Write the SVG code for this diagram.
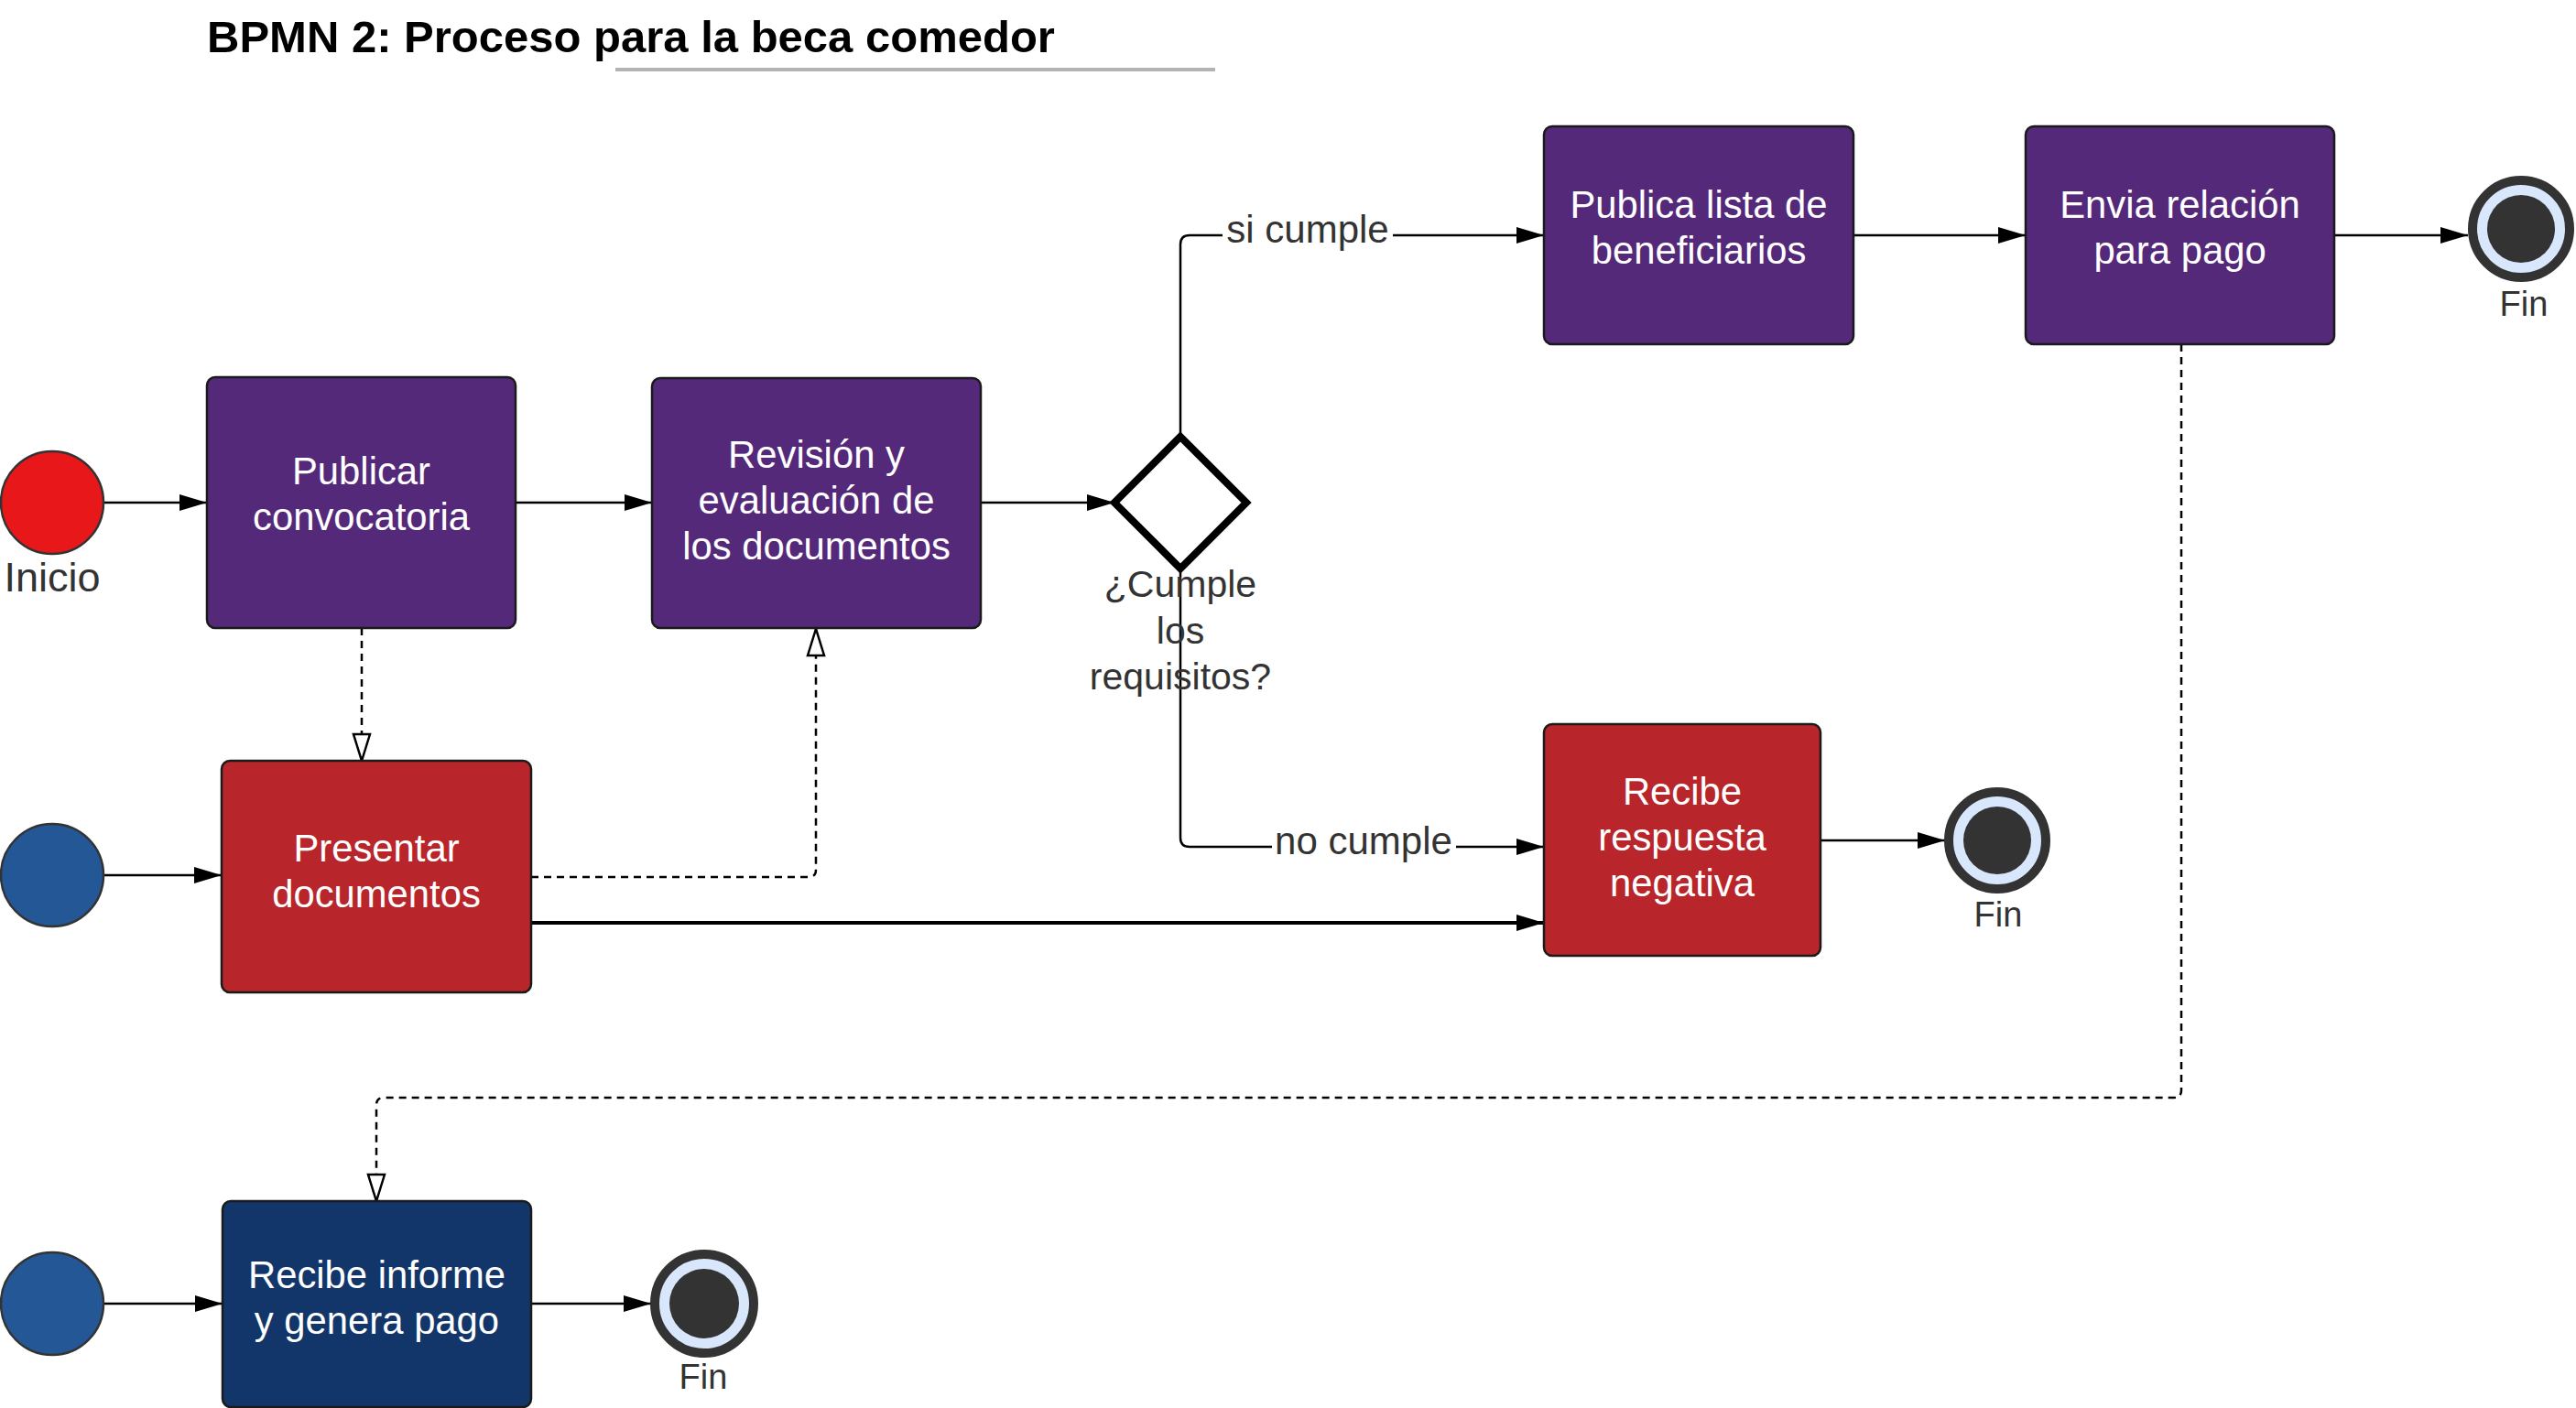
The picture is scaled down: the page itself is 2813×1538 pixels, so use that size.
<svg xmlns="http://www.w3.org/2000/svg" width="2813" height="1538" viewBox="0 0 2813 1538">
<style>
.task{stroke:#1a1a1a;stroke-width:2.5}
.purple{fill:#55297a}
.red{fill:#b8252a}
.navy{fill:#13366a}
.tt{font-family:"Liberation Sans",Arial,sans-serif;font-size:41.8px;fill:#ffffff;text-anchor:middle}
.lbl{font-family:"Liberation Sans",Arial,sans-serif;fill:#333333;text-anchor:middle}
.start{stroke:#333333;stroke-width:2.5}
.endo{fill:#d8e7fb;stroke:#333333;stroke-width:10}
.endi{fill:#333333}
.flow{fill:none;stroke:#000000;stroke-width:2.5;marker-end:url(#arr)}
.msg{fill:none;stroke:#000000;stroke-width:2.5;stroke-dasharray:8 6;marker-end:url(#open)}
</style>
<defs>
<marker id="arr" markerUnits="userSpaceOnUse" markerWidth="32" markerHeight="22" viewBox="0 -2 32 22" refX="30" refY="9" orient="auto">
<path d="M0,0 L30,9 L0,18 Z" fill="#000000"/>
</marker>
<marker id="open" markerUnits="userSpaceOnUse" markerWidth="34" markerHeight="24" viewBox="-2 -3 34 24" refX="29" refY="9" orient="auto">
<path d="M0,0 L29,9 L0,18 Z" fill="#ffffff" stroke="#000000" stroke-width="2.5" stroke-dasharray="none"/>
</marker>
</defs>
<rect x="0" y="0" width="2813" height="1538" fill="#ffffff"/>

<g id="title">
<text x="226" y="57" font-family="Liberation Sans, Arial, sans-serif" font-size="49" font-weight="bold" fill="#000000">BPMN 2: Proceso para la beca comedor</text>
<line x1="672" y1="76" x2="1327" y2="76" stroke="#b3b3b3" stroke-width="4"/>
</g>

<g id="connectors">
<path class="flow" d="M113,549 H226"/>
<path class="flow" d="M563,549 H712"/>
<path class="flow" d="M1071,549 H1217"/>
<path class="flow" d="M1289,477 V267 Q1289,257 1299,257 H1686"/>
<path class="flow" d="M1289,620 V915 Q1289,925 1299,925 H1686"/>
<path class="flow" d="M2024,257 H2212"/>
<path class="flow" d="M2549,257 H2695"/>
<path class="flow" d="M113,956 H242"/>
<path class="flow" d="M580,1008 H1686" style="stroke-width:4"/>
<path class="flow" d="M1988,918 H2124"/>
<path class="flow" d="M114,1424 H243"/>
<path class="flow" d="M580,1424 H711"/>
<path class="msg" d="M395,686 V831"/>
<path class="msg" d="M580,958 H883 Q891,958 891,950 V687"/>
<path class="msg" d="M2382,376 V1191 Q2382,1199 2374,1199 H419 Q411,1199 411,1207 V1312"/>
<rect x="1335" y="232" width="186" height="44" fill="#ffffff"/>
<text class="lbl" x="1428" y="265" font-size="42">si cumple</text>
<rect x="1389" y="900" width="201" height="44" fill="#ffffff"/>
<text class="lbl" x="1489" y="933" font-size="42">no cumple</text>
</g>

<g id="inicio">
<circle class="start" cx="57" cy="549" r="56" fill="#e8171a"/>
<text class="lbl" x="57" y="646" font-size="45">Inicio</text>
</g>

<g id="publicar-convocatoria">
<rect class="task purple" x="226" y="412" width="337" height="274" rx="9"/>
<text class="tt" x="394.5" y="529">Publicar</text>
<text class="tt" x="394.5" y="579">convocatoria</text>
</g>

<g id="revision-documentos">
<rect class="task purple" x="712" y="413" width="359" height="273" rx="9"/>
<text class="tt" x="891.5" y="511">Revisión y</text>
<text class="tt" x="891.5" y="561">evaluación de</text>
<text class="tt" x="891.5" y="611">los documentos</text>
</g>

<g id="gateway">
<path d="M1289,477 L1361,549 L1289,621 L1217,549 Z" fill="#ffffff" stroke="#000000" stroke-width="8" stroke-linejoin="miter"/>
<text class="lbl" x="1289" y="652" font-size="41">¿Cumple</text>
<text class="lbl" x="1289" y="703" font-size="41">los</text>
<text class="lbl" x="1289" y="753" font-size="41">requisitos?</text>
</g>

<g id="publica-lista">
<rect class="task purple" x="1686" y="138" width="338" height="238" rx="9"/>
<text class="tt" x="1855" y="238">Publica lista de</text>
<text class="tt" x="1855" y="288">beneficiarios</text>
</g>

<g id="envia-relacion">
<rect class="task purple" x="2212" y="138" width="337" height="238" rx="9"/>
<text class="tt" x="2380.5" y="238">Envia relación</text>
<text class="tt" x="2380.5" y="288">para pago</text>
</g>

<g id="fin-1">
<circle class="endo" cx="2753" cy="250" r="53"/>
<circle class="endi" cx="2753" cy="250" r="37"/>
<text class="lbl" x="2756" y="345" font-size="38">Fin</text>
</g>

<g id="start-2">
<circle class="start" cx="57" cy="956" r="56" fill="#245796"/>
</g>

<g id="presentar-documentos">
<rect class="task red" x="242" y="831" width="338" height="253" rx="9"/>
<text class="tt" x="411" y="941">Presentar</text>
<text class="tt" x="411" y="991">documentos</text>
</g>

<g id="recibe-respuesta-negativa">
<rect class="task red" x="1686" y="791" width="302" height="253" rx="9"/>
<text class="tt" x="1837" y="879">Recibe</text>
<text class="tt" x="1837" y="929">respuesta</text>
<text class="tt" x="1837" y="979">negativa</text>
</g>

<g id="fin-2">
<circle class="endo" cx="2181" cy="918" r="53"/>
<circle class="endi" cx="2181" cy="918" r="37"/>
<text class="lbl" x="2182" y="1012" font-size="38">Fin</text>
</g>

<g id="start-3">
<circle class="start" cx="57" cy="1424" r="56" fill="#245796"/>
</g>

<g id="recibe-informe">
<rect class="task navy" x="243" y="1312" width="337" height="225" rx="9"/>
<text class="tt" x="411.5" y="1407">Recibe informe</text>
<text class="tt" x="411.5" y="1457">y genera pago</text>
</g>

<g id="fin-3">
<circle class="endo" cx="769" cy="1424" r="54"/>
<circle class="endi" cx="769" cy="1424" r="38"/>
<text class="lbl" x="768" y="1517" font-size="38">Fin</text>
</g>
</svg>
